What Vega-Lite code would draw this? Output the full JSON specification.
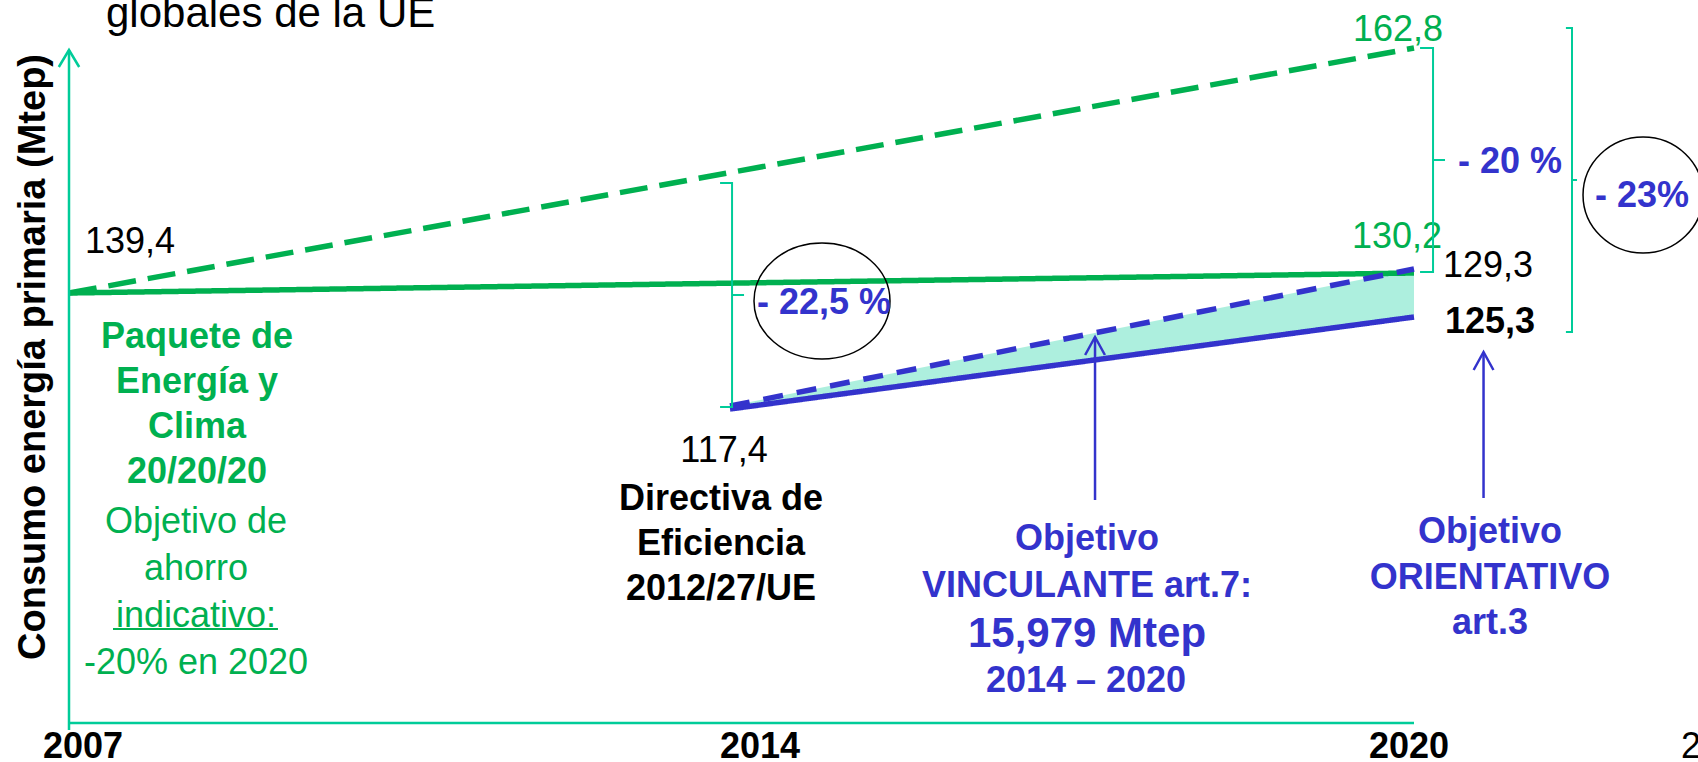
{
  "$schema": "https://vega.github.io/schema/vega-lite/v6.json",
  "width": 1698,
  "height": 762,
  "autosize": "none",
  "padding": 0,
  "background": "white",
  "config": {"view": {"stroke": null}, "axis": {"disable": true}, "legend": {"disable": true}},
  "datasets": {
    "lineas": [
      {"serie": "tendencial", "year": 2007, "level": 132.125, "etiqueta": "139,4"},
      {"serie": "tendencial", "year": 2020, "level": 162.75, "etiqueta": "162,8"},
      {"serie": "objetivo", "year": 2007, "level": 132.125},
      {"serie": "objetivo", "year": 2020, "level": 134.625, "etiqueta": "130,2"},
      {"serie": "art7", "year": 2014, "level": 118.0, "etiqueta": "117,4"},
      {"serie": "art7", "year": 2020, "level": 135.125, "etiqueta": "129,3"},
      {"serie": "art3", "year": 2014, "level": 117.625},
      {"serie": "art3", "year": 2020, "level": 129.125, "etiqueta": "125,3"}
    ],
    "ahorro": [
      {"year": 2014, "sup": 118.0, "inf": 117.625},
      {"year": 2020, "sup": 135.125, "inf": 129.125}
    ],
    "ancla": [{}]
  },
  "layer": [
    {
      "data": {"name": "ahorro"},
      "mark": {"type": "area", "fill": "#00CC99", "fillOpacity": 0.32},
      "encoding": {
        "x": {"field": "year", "type": "quantitative", "scale": {"domain": [2007, 2014, 2020], "range": [69, 730, 1414], "zero": false, "nice": false}, "axis": null},
        "y": {"field": "sup", "type": "quantitative", "scale": {"domain": [73.5, 168.75], "range": [762, 0], "zero": false, "nice": false}, "axis": null},
        "y2": {"field": "inf"}
      }
    },
    {
      "data": {"name": "lineas"},
      "mark": {"type": "line", "strokeWidth": 5.5, "strokeCap": "butt"},
      "encoding": {
        "x": {"field": "year", "type": "quantitative", "scale": {"domain": [2007, 2014, 2020], "range": [69, 730, 1414], "zero": false, "nice": false}, "axis": null},
        "y": {"field": "level", "type": "quantitative", "scale": {"domain": [73.5, 168.75], "range": [762, 0], "zero": false, "nice": false}, "axis": null},
        "color": {"field": "serie", "type": "nominal", "scale": {"domain": ["tendencial", "objetivo", "art7", "art3"], "range": ["#00B050", "#00B050", "#3333CC", "#3333CC"]}, "legend": null},
        "strokeDash": {"field": "serie", "type": "nominal", "scale": {"domain": ["tendencial", "objetivo", "art7", "art3"], "range": [[28, 12], [1, 0], [20, 14], [1, 0]]}, "legend": null}
      }
    },
    {
      "data": {"name": "lineas"},
      "transform": [{"filter": "datum.serie === 'tendencial' && datum.year === 2007"}],
      "mark": {"type": "text", "align": "left", "baseline": "alphabetic", "dx": 16, "dy": -40, "font": "Liberation Sans", "fontSize": 36, "fill": "black"},
      "encoding": {"x": {"field": "year", "type": "quantitative"}, "y": {"field": "level", "type": "quantitative"}, "text": {"field": "etiqueta"}}
    },
    {
      "data": {"name": "lineas"},
      "transform": [{"filter": "datum.serie === 'tendencial' && datum.year === 2020"}],
      "mark": {"type": "text", "align": "left", "baseline": "alphabetic", "dx": -61, "dy": -7, "font": "Liberation Sans", "fontSize": 36, "fill": "#00B050"},
      "encoding": {"x": {"field": "year", "type": "quantitative"}, "y": {"field": "level", "type": "quantitative"}, "text": {"field": "etiqueta"}}
    },
    {
      "data": {"name": "lineas"},
      "transform": [{"filter": "datum.serie === 'objetivo' && datum.year === 2020"}],
      "mark": {"type": "text", "align": "left", "baseline": "alphabetic", "dx": -62, "dy": -25, "font": "Liberation Sans", "fontSize": 36, "fill": "#00B050"},
      "encoding": {"x": {"field": "year", "type": "quantitative"}, "y": {"field": "level", "type": "quantitative"}, "text": {"field": "etiqueta"}}
    },
    {
      "data": {"name": "lineas"},
      "transform": [{"filter": "datum.serie === 'art7' && datum.year === 2020"}],
      "mark": {"type": "text", "align": "left", "baseline": "alphabetic", "dx": 29, "dy": 8, "font": "Liberation Sans", "fontSize": 36, "fill": "black"},
      "encoding": {"x": {"field": "year", "type": "quantitative"}, "y": {"field": "level", "type": "quantitative"}, "text": {"field": "etiqueta"}}
    },
    {
      "data": {"name": "lineas"},
      "transform": [{"filter": "datum.serie === 'art3' && datum.year === 2020"}],
      "mark": {"type": "text", "align": "left", "baseline": "alphabetic", "dx": 31, "dy": 16, "font": "Liberation Sans", "fontSize": 36, "fontWeight": "bold", "fill": "black"},
      "encoding": {"x": {"field": "year", "type": "quantitative"}, "y": {"field": "level", "type": "quantitative"}, "text": {"field": "etiqueta"}}
    },
    {
      "data": {"name": "lineas"},
      "transform": [{"filter": "datum.serie === 'art7' && datum.year === 2014"}],
      "mark": {"type": "text", "align": "center", "baseline": "alphabetic", "dx": -6, "dy": 56, "font": "Liberation Sans", "fontSize": 36, "fill": "black"},
      "encoding": {"x": {"field": "year", "type": "quantitative"}, "y": {"field": "level", "type": "quantitative"}, "text": {"field": "etiqueta"}}
    },
    {
      "data": {"name": "ancla"},
      "mark": {"type": "rule", "stroke": "#00CC99", "strokeWidth": 2.5},
      "encoding": {"x": {"datum": 2007, "type": "quantitative"}, "y": {"datum": 77.5, "type": "quantitative"}, "y2": {"datum": 162.5}}
    },
    {
      "data": {"name": "ancla"},
      "mark": {"type": "rule", "stroke": "#00CC99", "strokeWidth": 2.5},
      "encoding": {"x": {"datum": 2007, "type": "quantitative"}, "x2": {"datum": 2020}, "y": {"datum": 78.375, "type": "quantitative"}}
    },
    {
      "data": {"name": "ancla"},
      "mark": {"type": "point", "shape": "M-0.6,1L0,0L0.6,1", "size": 1156, "filled": false, "stroke": "#00CC99", "strokeWidth": 2.5, "opacity": 1},
      "encoding": {"x": {"datum": 2007, "type": "quantitative"}, "y": {"datum": 162.5, "type": "quantitative"}}
    },
    {
      "data": {"name": "ancla"},
      "mark": {"type": "point", "shape": "M-0.107,-1L0,-1L0,1L-0.107,1M0,0L0.107,0", "size": 50176, "filled": false, "stroke": "#00CC99", "strokeWidth": 2, "opacity": 1},
      "encoding": {"x": {"datum": 2014.018, "type": "quantitative"}, "y": {"datum": 131.875, "type": "quantitative"}}
    },
    {
      "data": {"name": "ancla"},
      "mark": {"type": "point", "shape": "M-0.116,-1L0,-1L0,1L-0.116,1M0,0L0.107,0", "size": 50176, "filled": false, "stroke": "#00CC99", "strokeWidth": 2, "opacity": 1},
      "encoding": {"x": {"datum": 2020.167, "type": "quantitative"}, "y": {"datum": 148.75, "type": "quantitative"}}
    },
    {
      "data": {"name": "ancla"},
      "mark": {"type": "point", "shape": "M-0.04,-1L0,-1L0,1L-0.04,1M0,0L0.033,0", "size": 92416, "filled": false, "stroke": "#00CC99", "strokeWidth": 2, "opacity": 1},
      "encoding": {"x": {"datum": 2021.386, "type": "quantitative"}, "y": {"datum": 146.25, "type": "quantitative"}}
    },
    {
      "data": {"name": "ancla"},
      "mark": {"type": "point", "shape": "M-1,0A1,0.853,0,0,1,1,0A1,0.853,0,0,1,-1,0Z", "size": 18496, "filled": false, "stroke": "black", "strokeWidth": 1.5, "opacity": 1},
      "encoding": {"x": {"datum": 2014.807, "type": "quantitative"}, "y": {"datum": 131.125, "type": "quantitative"}}
    },
    {
      "data": {"name": "ancla"},
      "mark": {"type": "point", "shape": "M-1,0A1,0.967,0,0,1,1,0A1,0.967,0,0,1,-1,0Z", "size": 14400, "filled": false, "stroke": "black", "strokeWidth": 1.5, "opacity": 1},
      "encoding": {"x": {"datum": 2022.009, "type": "quantitative"}, "y": {"datum": 144.375, "type": "quantitative"}}
    },
    {
      "data": {"name": "ancla"},
      "mark": {"type": "rule", "stroke": "#3333CC", "strokeWidth": 2.5},
      "encoding": {"x": {"datum": 2017.202, "type": "quantitative"}, "y": {"datum": 106.25, "type": "quantitative"}, "y2": {"datum": 126.625}}
    },
    {
      "data": {"name": "ancla"},
      "mark": {"type": "rule", "stroke": "#3333CC", "strokeWidth": 2.5},
      "encoding": {"x": {"datum": 2020.61, "type": "quantitative"}, "y": {"datum": 106.5, "type": "quantitative"}, "y2": {"datum": 124.75}}
    },
    {
      "data": {"name": "ancla"},
      "mark": {"type": "point", "shape": "M-0.55,1L0,0L0.55,1", "size": 1296, "filled": false, "stroke": "#3333CC", "strokeWidth": 2.5, "opacity": 1},
      "encoding": {"x": {"datum": 2017.202, "type": "quantitative"}, "y": {"datum": 126.625, "type": "quantitative"}}
    },
    {
      "data": {"name": "ancla"},
      "mark": {"type": "point", "shape": "M-0.55,1L0,0L0.55,1", "size": 1296, "filled": false, "stroke": "#3333CC", "strokeWidth": 2.5, "opacity": 1},
      "encoding": {"x": {"datum": 2020.61, "type": "quantitative"}, "y": {"datum": 124.75, "type": "quantitative"}}
    },
    {
      "data": {"name": "ancla"},
      "mark": {"type": "rule", "stroke": "#00B050", "strokeWidth": 2},
      "encoding": {"x": {"datum": 2007.466, "type": "quantitative"}, "x2": {"datum": 2009.213}, "y": {"datum": 90.125, "type": "quantitative"}}
    },
    {
      "data": {"name": "ancla"},
      "mark": {"type": "text", "text": "globales de la UE", "align": "left", "baseline": "alphabetic", "font": "Liberation Sans", "fontSize": 42, "fill": "black"},
      "encoding": {"x": {"datum": 2007.392, "type": "quantitative"}, "y": {"datum": 165.375, "type": "quantitative"}}
    },
    {
      "data": {"name": "ancla"},
      "mark": {"type": "text", "text": "- 22,5 %", "align": "left", "baseline": "alphabetic", "font": "Liberation Sans", "fontSize": 36, "fontWeight": "bold", "fill": "#3333CC"},
      "encoding": {"x": {"datum": 2014.237, "type": "quantitative"}, "y": {"datum": 129.5, "type": "quantitative"}}
    },
    {
      "data": {"name": "ancla"},
      "mark": {"type": "text", "text": "- 20 %", "align": "left", "baseline": "alphabetic", "font": "Liberation Sans", "fontSize": 36, "fontWeight": "bold", "fill": "#3333CC"},
      "encoding": {"x": {"datum": 2020.386, "type": "quantitative"}, "y": {"datum": 147.125, "type": "quantitative"}}
    },
    {
      "data": {"name": "ancla"},
      "mark": {"type": "text", "text": "- 23%", "align": "left", "baseline": "alphabetic", "font": "Liberation Sans", "fontSize": 36, "fontWeight": "bold", "fill": "#3333CC"},
      "encoding": {"x": {"datum": 2021.588, "type": "quantitative"}, "y": {"datum": 142.875, "type": "quantitative"}}
    },
    {
      "data": {"name": "ancla"},
      "mark": {"type": "text", "text": ["Paquete de", "Energía y", "Clima", "20/20/20"], "lineHeight": 45, "align": "center", "baseline": "alphabetic", "font": "Liberation Sans", "fontSize": 36, "fontWeight": "bold", "fill": "#00B050"},
      "encoding": {"x": {"datum": 2008.356, "type": "quantitative"}, "y": {"datum": 125.25, "type": "quantitative"}}
    },
    {
      "data": {"name": "ancla"},
      "mark": {"type": "text", "text": ["Objetivo de", "ahorro", "indicativo:", "-20% en 2020"], "lineHeight": 47, "align": "center", "baseline": "alphabetic", "font": "Liberation Sans", "fontSize": 36, "fill": "#00B050"},
      "encoding": {"x": {"datum": 2008.345, "type": "quantitative"}, "y": {"datum": 102.125, "type": "quantitative"}}
    },
    {
      "data": {"name": "ancla"},
      "mark": {"type": "text", "text": ["Directiva de", "Eficiencia", "2012/27/UE"], "lineHeight": 45, "align": "center", "baseline": "alphabetic", "font": "Liberation Sans", "fontSize": 36, "fontWeight": "bold", "fill": "black"},
      "encoding": {"x": {"datum": 2013.905, "type": "quantitative"}, "y": {"datum": 105.0, "type": "quantitative"}}
    },
    {
      "data": {"name": "ancla"},
      "mark": {"type": "text", "text": ["Objetivo", "VINCULANTE art.7:"], "lineHeight": 47, "align": "center", "baseline": "alphabetic", "font": "Liberation Sans", "fontSize": 36, "fontWeight": "bold", "fill": "#3333CC"},
      "encoding": {"x": {"datum": 2017.132, "type": "quantitative"}, "y": {"datum": 100.0, "type": "quantitative"}}
    },
    {
      "data": {"name": "ancla"},
      "mark": {"type": "text", "text": "15,979 Mtep", "align": "center", "baseline": "alphabetic", "font": "Liberation Sans", "fontSize": 42, "fontWeight": "bold", "fill": "#3333CC"},
      "encoding": {"x": {"datum": 2017.132, "type": "quantitative"}, "y": {"datum": 87.875, "type": "quantitative"}}
    },
    {
      "data": {"name": "ancla"},
      "mark": {"type": "text", "text": "2014 – 2020", "align": "center", "baseline": "alphabetic", "font": "Liberation Sans", "fontSize": 36, "fontWeight": "bold", "fill": "#3333CC"},
      "encoding": {"x": {"datum": 2017.123, "type": "quantitative"}, "y": {"datum": 82.25, "type": "quantitative"}}
    },
    {
      "data": {"name": "ancla"},
      "mark": {"type": "text", "text": ["Objetivo", "ORIENTATIVO", "art.3"], "lineHeight": 45.5, "align": "center", "baseline": "alphabetic", "font": "Liberation Sans", "fontSize": 36, "fontWeight": "bold", "fill": "#3333CC"},
      "encoding": {"x": {"datum": 2020.667, "type": "quantitative"}, "y": {"datum": 100.875, "type": "quantitative"}}
    },
    {
      "data": {"name": "ancla"},
      "mark": {"type": "text", "text": "2007", "align": "center", "baseline": "alphabetic", "font": "Liberation Sans", "fontSize": 36, "fontWeight": "bold", "fill": "black"},
      "encoding": {"x": {"datum": 2007.148, "type": "quantitative"}, "y": {"datum": 74.0, "type": "quantitative"}}
    },
    {
      "data": {"name": "ancla"},
      "mark": {"type": "text", "text": "2014", "align": "center", "baseline": "alphabetic", "font": "Liberation Sans", "fontSize": 36, "fontWeight": "bold", "fill": "black"},
      "encoding": {"x": {"datum": 2014.263, "type": "quantitative"}, "y": {"datum": 74.0, "type": "quantitative"}}
    },
    {
      "data": {"name": "ancla"},
      "mark": {"type": "text", "text": "2020", "align": "center", "baseline": "alphabetic", "font": "Liberation Sans", "fontSize": 36, "fontWeight": "bold", "fill": "black"},
      "encoding": {"x": {"datum": 2019.956, "type": "quantitative"}, "y": {"datum": 74.0, "type": "quantitative"}}
    },
    {
      "data": {"name": "ancla"},
      "mark": {"type": "text", "text": "2", "align": "left", "baseline": "alphabetic", "font": "Liberation Sans", "fontSize": 36, "fill": "black"},
      "encoding": {"x": {"datum": 2022.342, "type": "quantitative"}, "y": {"datum": 74.0, "type": "quantitative"}}
    },
    {
      "data": {"name": "ancla"},
      "mark": {"type": "text", "text": "Consumo energía primaria (Mtep)", "angle": 270, "align": "center", "baseline": "alphabetic", "font": "Liberation Sans", "fontSize": 38, "fontWeight": "bold", "fill": "black"},
      "encoding": {"x": {"datum": 2006.746, "type": "quantitative"}, "y": {"datum": 124.125, "type": "quantitative"}}
    }
  ]
}
